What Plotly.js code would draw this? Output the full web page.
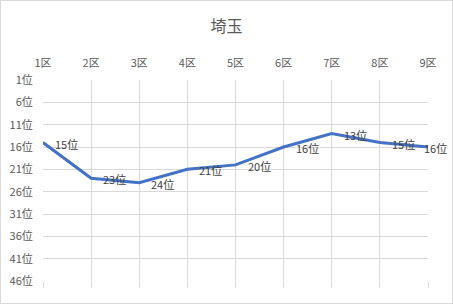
<!DOCTYPE html>
<html><head><meta charset="utf-8">
<script src="https://cdn.plot.ly/plotly-3.0.1.min.js"></script>
<style>
html,body{margin:0;padding:0;background:#fff;}
#wrap{width:451px;height:302px;border:1px solid #d9d9d9;}
#chart{width:451px;height:302px;}
</style></head>
<body><div id="wrap"><div id="chart"></div></div>
<script>
const chartTitle = "埼玉";
const districts = ["1区","2区","3区","4区","5区","6区","7区","8区","9区"];
const ranks = [15,23,24,21,20,16,13,15,16];
const rankTicks = [1,6,11,16,21,26,31,36,41,46];
const rankTickText = rankTicks.map(v => v + "位");
const labelText = ranks.map(v => v + "位");

const font = "Noto Sans CJK JP, sans-serif";
const idx = districts.map((d,i)=>i);

const annotations = ranks.map((v,i)=>({
  x: i, y: v, xref:'x', yref:'y', text: labelText[i], showarrow:false,
  xanchor: i === ranks.length-1 ? 'center' : 'left',
  xshift: i === ranks.length-1 ? 7 : 10, yshift: -1,
  font:{family:font,size:11,color:'#404040'}
}));

const trace = {
  x: idx, y: ranks, type:'scatter', mode:'lines',
  line:{color:'#4472C4', width:3}, cliponaxis:false, hoverinfo:'skip'
};
const ghost = {x:[0,8], y:[46,46], xaxis:'x2', yaxis:'y', mode:'none', type:'scatter', hoverinfo:'skip', showlegend:false};

Plotly.newPlot('chart',[trace, ghost],{
  width:451, height:302,
  margin:{l:42,r:24,t:79,b:22},
  paper_bgcolor:'#fff', plot_bgcolor:'#fff',
  showlegend:false,
  title:{text:chartTitle, x:0.5, xanchor:'center', y:0.915, yanchor:'middle',
    font:{family:font,size:16,color:'#595959'}},
  xaxis:{range:[0,8], side:'top', tickmode:'array', tickvals:idx, ticktext:districts,
    showgrid:true, gridcolor:'#d9d9d9', gridwidth:1, zeroline:false,
    ticks:'outside', ticklen:8, tickcolor:'rgba(0,0,0,0)',
    showline:false, tickfont:{family:font,size:11,color:'#595959'}, fixedrange:true},
  xaxis2:{range:[0,8], overlaying:'x', side:'bottom', tickmode:'array', tickvals:idx,
    showticklabels:false, showgrid:false, zeroline:false, ticks:'outside', ticklen:6,
    tickcolor:'#d9d9d9', tickwidth:1, showline:false},
  yaxis:{range:[46,1], tickmode:'array', tickvals:rankTicks, ticktext:rankTickText,
    showgrid:true, gridcolor:'#d9d9d9', gridwidth:1, zeroline:false,
    ticks:'outside', ticklen:7, tickcolor:'rgba(0,0,0,0)', showline:false,
    tickfont:{family:font,size:11,color:'#595959'}, fixedrange:true},
  annotations: annotations
},{staticPlot:true, displayModeBar:false});
</script></body></html>
